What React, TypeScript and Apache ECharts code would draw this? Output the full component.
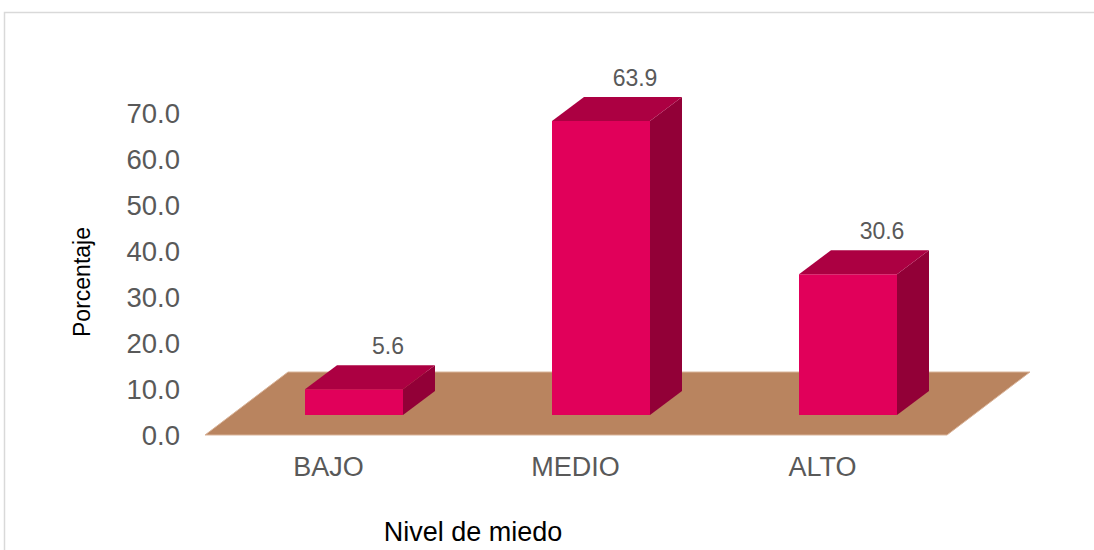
import React, { useEffect, useRef } from "react";
import * as echarts from "echarts";

const categories = ["BAJO", "MEDIO", "ALTO"];
const values = [5.6, 63.9, 30.6];
const yTicks = { min: 0, max: 70, interval: 10 };
const xAxisTitle = "Nivel de miedo";
const yAxisTitle = "Porcentaje";

const FRONT = "#E1005A";
const TOP = "#AC0042";
const SIDE = "#920037";
const FLOOR = "#B9845F";
const TXT = "#595959";
const FONT = "Liberation Sans";

export default function App() {
  const ref = useRef<HTMLDivElement>(null);
  useEffect(() => {
    const chart = echarts.init(ref.current!, null, { renderer: "svg" });
    const OFF_X = 25.5, OFF_Y = 20; // bar plane offset from axis plane
    const DX = 32, DY = 24; // bar depth
    const FDX = 83, FDY = 63; // floor depth
    chart.setOption({
      animation: false,
      backgroundColor: "#ffffff",
      grid: { left: 205, right: 148, top: 113, bottom: 115 },
      xAxis: {
        type: "category",
        data: categories,
        axisLine: { show: false },
        axisTick: { show: false },
        axisLabel: { color: TXT, fontSize: 27, fontFamily: FONT, margin: 18 },
      },
      yAxis: {
        type: "value",
        min: yTicks.min,
        max: yTicks.max,
        interval: yTicks.interval,
        axisLine: { show: false },
        axisTick: { show: false },
        splitLine: { show: false },
        axisLabel: {
          color: TXT,
          fontSize: 27.5,
          fontFamily: FONT,
          margin: 25,
          formatter: (v: number) => v.toFixed(1),
        },
      },
      graphic: [
        {
          type: "rect",
          shape: { x: 4.5, y: 12.5, width: 1200, height: 700 },
          style: { fill: "none", stroke: "#d9d9d9", lineWidth: 1.5 },
          silent: true,
          z: -10,
        },
        {
          type: "text",
          x: 473,
          y: 532,
          style: {
            text: xAxisTitle,
            fill: "#000",
            fontSize: 27,
            fontFamily: FONT,
            textAlign: "center",
            textVerticalAlign: "middle",
          },
        },
        {
          type: "text",
          x: 82,
          y: 282,
          rotation: Math.PI / 2,
          style: {
            text: yAxisTitle,
            fill: "#000",
            fontSize: 23,
            fontFamily: FONT,
            textAlign: "center",
            textVerticalAlign: "middle",
          },
        },
      ],
      series: [
        {
          type: "custom",
          data: [[0, 0]],
          z: 1,
          silent: true,
          renderItem: (params: any, api: any) => {
            const cs = params.coordSys;
            const l = cs.x, r = cs.x + cs.width, b = cs.y + cs.height;
            return {
              type: "polygon",
              shape: {
                points: [
                  [l, b],
                  [r + 1, b],
                  [r + 1 + FDX, b - FDY],
                  [l + FDX, b - FDY],
                ],
              },
              style: { fill: FLOOR, stroke: "#d9b49a", lineWidth: 1 },
            };
          },
        },
        {
          type: "custom",
          data: values.map((v, i) => [i, v]),
          z: 2,
          renderItem: (params: any, api: any) => {
            const idx = api.value(0);
            const val = api.value(1);
            const base = api.coord([idx, 0]);
            const top = api.coord([idx, val]);
            const w = 98;
            const cx = base[0] + OFF_X;
            const x0 = cx - w / 2, x1 = cx + w / 2;
            const yb = base[1] - OFF_Y, yt = top[1] - OFF_Y;
            return {
              type: "group",
              children: [
                {
                  type: "polygon",
                  shape: { points: [[x0, yt], [x1, yt], [x1, yb], [x0, yb]] },
                  style: { fill: FRONT },
                },
                {
                  type: "polygon",
                  shape: { points: [[x1, yt], [x1 + DX, yt - DY], [x1 + DX, yb - DY], [x1, yb]] },
                  style: { fill: SIDE },
                },
                {
                  type: "polygon",
                  shape: { points: [[x0, yt], [x0 + DX, yt - DY], [x1 + DX, yt - DY], [x1, yt]] },
                  style: { fill: TOP },
                },
                {
                  type: "text",
                  x: cx + DX + 2,
                  y: yt - DY - 19,
                  style: {
                    text: val.toFixed(1),
                    fill: TXT,
                    fontSize: 23,
                    fontFamily: FONT,
                    textAlign: "center",
                    textVerticalAlign: "middle",
                  },
                },
              ],
            };
          },
        },
      ],
    });
    return () => chart.dispose();
  }, []);
  return (
    <div
      ref={ref}
      style={{ position: "fixed", left: 0, top: 0, width: 1094, height: 550 }}
    />
  );
}
